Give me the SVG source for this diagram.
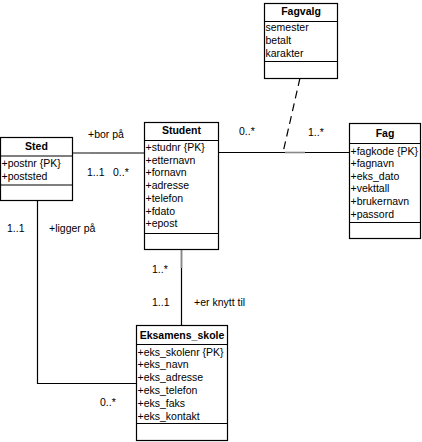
<svg xmlns="http://www.w3.org/2000/svg" width="422" height="442" viewBox="0 0 422 442">
<style>
text{font-family:"Liberation Sans",Arial,sans-serif;font-size:10.5px;fill:#000}
.h{font-weight:bold;text-anchor:middle}
.box{fill:#fff;stroke:#000;stroke-width:1.2}
.sep{stroke:#000;stroke-width:1.2}
.c{fill:none;stroke:#000;stroke-width:1.2}
.g{fill:none;stroke:#888;stroke-width:1.6}
</style>
<rect width="422" height="442" fill="#fff"/>
<g id="connectors">
<line class="c" x1="72" y1="153" x2="144" y2="153"/>
<line class="g" x1="73" y1="153" x2="90" y2="153"/>
<line class="c" x1="218" y1="152.5" x2="349" y2="152.5"/>
<line class="g" x1="285" y1="152.5" x2="305" y2="152.5"/>
<line class="c" x1="300" y1="78" x2="283" y2="152.5" stroke-dasharray="8,5"/>
<polyline class="c" points="37.5,201 37.5,383.5 136,383.5"/>
<line class="c" x1="181.5" y1="249" x2="181.5" y2="325"/>
<line class="g" x1="181.5" y1="250" x2="181.5" y2="268"/>
</g>
<g id="labels">
<text x="88" y="138">+bor på</text>
<text x="87" y="175.5">1..1</text>
<text x="113" y="175.5">0..*</text>
<text x="239" y="135">0..*</text>
<text x="308" y="136">1..*</text>
<text x="7" y="232">1..1</text>
<text x="49" y="232">+ligger på</text>
<text x="152" y="273">1..*</text>
<text x="152" y="306">1..1</text>
<text x="194" y="306">+er knytt til</text>
<text x="100" y="406">0..*</text>
</g>
<g id="Sted">
<rect class="box" x="0.5" y="137.5" width="72" height="63"/>
<text class="h" x="36.5" y="150">Sted</text>
<line class="sep" x1="0.5" y1="156" x2="72.5" y2="156"/>
<text x="1.5" y="166.5">+postnr {PK}</text>
<text x="1.5" y="179.5">+poststed</text>
<line class="sep" x1="0.5" y1="185" x2="72.5" y2="185"/>
</g>
<g id="Student">
<rect class="box" x="144.5" y="122.5" width="74" height="127"/>
<text class="h" x="181.5" y="134">Student</text>
<line class="sep" x1="144.5" y1="140.5" x2="218.5" y2="140.5"/>
<text x="145.5" y="151">+studnr {PK}</text>
<text x="145.5" y="163.7">+etternavn</text>
<text x="145.5" y="176.4">+fornavn</text>
<text x="145.5" y="189.1">+adresse</text>
<text x="145.5" y="201.8">+telefon</text>
<text x="145.5" y="214.5">+fdato</text>
<text x="145.5" y="227.2">+epost</text>
<line class="sep" x1="144.5" y1="233.5" x2="218.5" y2="233.5"/>
</g>
<g id="Fagvalg">
<rect class="box" x="264.5" y="3.5" width="73" height="75"/>
<text class="h" x="301" y="15">Fagvalg</text>
<line class="sep" x1="264.5" y1="21.5" x2="337.5" y2="21.5"/>
<text x="265.5" y="31">semester</text>
<text x="265.5" y="44">betalt</text>
<text x="265.5" y="57">karakter</text>
<line class="sep" x1="264.5" y1="61.5" x2="337.5" y2="61.5"/>
</g>
<g id="Fag">
<rect class="box" x="349.5" y="123.5" width="71" height="115"/>
<text class="h" x="385" y="137">Fag</text>
<line class="sep" x1="349.5" y1="143.5" x2="420.5" y2="143.5"/>
<text x="350.5" y="154.5">+fagkode {PK}</text>
<text x="350.5" y="167.1">+fagnavn</text>
<text x="350.5" y="179.7">+eks_dato</text>
<text x="350.5" y="192.3">+vekttall</text>
<text x="350.5" y="204.9">+brukernavn</text>
<text x="350.5" y="217.5">+passord</text>
<line class="sep" x1="349.5" y1="222.5" x2="420.5" y2="222.5"/>
</g>
<g id="Eksamens_skole">
<rect class="box" x="136.5" y="325.5" width="91" height="115"/>
<text class="h" x="182" y="339">Eksamens_skole</text>
<line class="sep" x1="136.5" y1="344.5" x2="227.5" y2="344.5"/>
<text x="137.5" y="355.5">+eks_skolenr {PK}</text>
<text x="137.5" y="368.3">+eks_navn</text>
<text x="137.5" y="381.1">+eks_adresse</text>
<text x="137.5" y="393.9">+eks_telefon</text>
<text x="137.5" y="406.7">+eks_faks</text>
<text x="137.5" y="419.5">+eks_kontakt</text>
<line class="sep" x1="136.5" y1="423.5" x2="227.5" y2="423.5"/>
</g>
</svg>
